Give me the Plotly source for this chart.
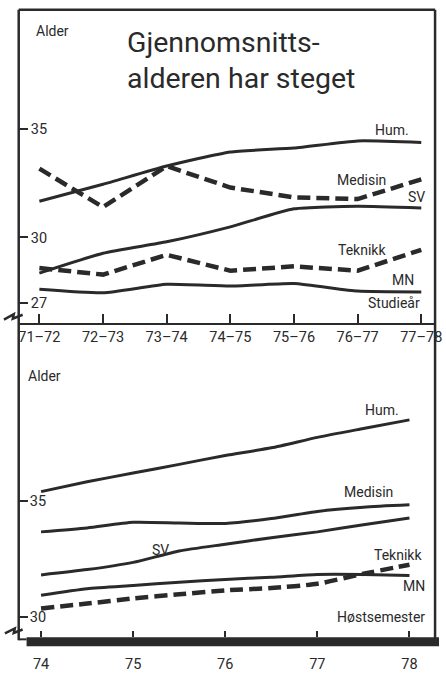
import plotly.graph_objects as go

W, H = 446, 673

# ---------------- data ----------------
periods = ["71–72", "72–73", "73–74", "74–75", "75–76", "76–77", "77–78"]
top_hum = [31.67, 32.45, 33.29, 33.94, 34.12, 34.45, 34.38]
top_medisin = [33.17, 31.40, 33.29, 32.30, 31.85, 31.77, 32.68]
top_sv = [28.36, 29.27, 29.80, 30.49, 31.32, 31.44, 31.36]
top_teknikk = [28.59, 28.29, 29.20, 28.47, 28.67, 28.47, 29.43]
top_mn = [27.61, 27.45, 27.84, 27.76, 27.88, 27.53, 27.49]

years = [74, 74.5, 75, 75.5, 76, 76.5, 77, 77.5, 78]
year_ticks = [74, 75, 76, 77, 78]
year_labels = ["74", "75", "76", "77", "78"]
bot_hum = [35.40, 35.82, 36.20, 36.57, 36.95, 37.28, 37.73, 38.11, 38.48]
bot_medisin = [33.67, 33.84, 34.08, 34.05, 34.03, 34.24, 34.55, 34.73, 34.83]
bot_sv = [31.82, 32.05, 32.36, 32.85, 33.14, 33.42, 33.67, 33.98, 34.27]
bot_mn = [30.95, 31.23, 31.37, 31.51, 31.63, 31.72, 31.84, 31.84, 31.80]
bot_teknikk = [30.38, 30.59, 30.81, 30.99, 31.16, 31.26, 31.44, 31.87, 32.26]

top_yticks = [35, 30, 27]
bot_yticks = [35, 30]

# ---------------- style ----------------
INK = "#2a2a2a"
FONT = "Roboto, DejaVu Sans Condensed, sans-serif"


def px(x):
    return x / W


def py(y):
    return 1 - y / H


fig = go.Figure()

solid = dict(color=INK, width=3)
dashed = dict(color=INK, width=4.5, dash="13px,6px")

# top panel
for ys, ln, shape in [
    (top_hum, solid, "spline"),
    (top_medisin, dashed, "linear"),
    (top_sv, solid, "spline"),
    (top_teknikk, dashed, "linear"),
    (top_mn, solid, "spline"),
]:
    fig.add_trace(go.Scatter(x=periods, y=ys, mode="lines", xaxis="x", yaxis="y",
                             line=dict(**ln, shape=shape, smoothing=0.5),
                             hoverinfo="skip"))

# bottom panel
for ys, ln in [
    (bot_hum, solid),
    (bot_medisin, solid),
    (bot_sv, solid),
    (bot_mn, solid),
    (bot_teknikk, dashed),
]:
    fig.add_trace(go.Scatter(x=years, y=ys, mode="lines", xaxis="x2", yaxis="y2",
                             line=dict(**ln, shape="spline", smoothing=0.6),
                             hoverinfo="skip"))

XL, XR = 19, 442
TOP_T, TOP_B = 10, 327
BOT_T, BOT_B = 345, 646

tickfont = dict(family=FONT, size=14.5, color=INK)

fig.update_layout(
    width=W, height=H,
    margin=dict(l=0, r=0, t=0, b=0),
    paper_bgcolor="white", plot_bgcolor="white",
    showlegend=False,
    font=dict(family=FONT, color=INK, size=14),
    xaxis=dict(domain=[px(XL), px(XR)], anchor="y", type="category",
               range=[-0.3247, 6.2165], showgrid=False, zeroline=False,
               showline=True, linecolor=INK, linewidth=2,
               ticks="inside", ticklen=9, tickwidth=2, tickcolor=INK,
               tickfont=tickfont, ticklabelstandoff=0,
               ticklabeloverflow="allow"),
    yaxis=dict(domain=[py(TOP_B), py(TOP_T)], anchor="x",
               range=[26.077, 40.486], showgrid=False, zeroline=False,
               showline=False, tickvals=top_yticks,
               ticks="inside", ticklen=9, tickwidth=2, tickcolor=INK,
               ticklabelposition="inside", tickfont=tickfont,
               ticklabelstandoff=3, ticklabeloverflow="allow"),
    xaxis2=dict(domain=[px(XL), px(XR)], anchor="y2",
                range=[73.7574, 78.2778], showgrid=False, zeroline=False,
                showline=False, tickvals=year_ticks, ticktext=year_labels,
                ticks="inside", ticklen=6, tickwidth=2, tickcolor=INK,
                tickfont=tickfont, ticklabelstandoff=16,
                ticklabeloverflow="allow"),
    yaxis2=dict(domain=[py(BOT_B), py(BOT_T)], anchor="x2",
                range=[29.14, 41.894], showgrid=False, zeroline=False,
                showline=False, tickvals=bot_yticks,
                ticks="inside", ticklen=9, tickwidth=2, tickcolor=INK,
                ticklabelposition="inside", tickfont=tickfont,
                ticklabelstandoff=2, ticklabeloverflow="allow"),
)

shapes = []


def seg(x0, y0, x1, y1, w=2.5):
    shapes.append(dict(type="line", xref="paper", yref="paper",
                       x0=px(x0), y0=py(y0), x1=px(x1), y1=py(y1),
                       line=dict(color=INK, width=w)))


seg(XL, TOP_T, XR, TOP_T)
seg(XL, TOP_T, XL, 649)
seg(XR, TOP_T, XR, 649)
seg(XL, 648, 27, 648, 2)
shapes.append(dict(type="rect", xref="paper", yref="paper",
                   x0=px(27), x1=px(446), y0=py(BOT_B), y1=py(655),
                   fillcolor=INK, line=dict(width=0)))


def zig(pts):
    d = "M " + " L ".join(f"{px(a):.5f},{py(b):.5f}" for a, b in pts)
    shapes.append(dict(type="path", xref="paper", yref="paper", path=d,
                       line=dict(color=INK, width=2.5)))


zig([(4, 324), (14, 318.5), (13, 323), (23, 319)])
zig([(5, 642), (15, 637), (14, 641.5), (23, 638)])

fig.update_layout(shapes=shapes)


def lab(text, x, y, anchor="right", size=14):
    fig.add_annotation(text=text, xref="paper", yref="paper", x=px(x), y=py(y),
                       xanchor=anchor, yanchor="middle", showarrow=False,
                       font=dict(family=FONT, size=size, color=INK))


# titles
lab("Alder", 35, 31, "left")
lab("Gjennomsnitts-", 127, 43, "left", 28.5)
lab("alderen har steget", 127, 80, "left", 28.5)

# top panel series labels
lab("Hum.", 418, 132)
lab("Medisin", 394, 182)
lab("SV", 434, 200)
lab("Teknikk", 394, 253)
lab("MN", 423, 284)
lab("Studieår", 429, 307)

# bottom panel labels
lab("Alder", 26, 381, "left")
lab("Hum.", 407, 416)
lab("Medisin", 401, 499)
lab("SV", 163, 557, "center")
lab("Teknikk", 431, 563)
lab("MN", 434, 594)
lab("Høstsemester", 434, 625)

fig.write_html(
    "out.html",
    config={"displayModeBar": False},
    post_script="document.body.style.margin='0';document.body.style.overflow='hidden';",
)
